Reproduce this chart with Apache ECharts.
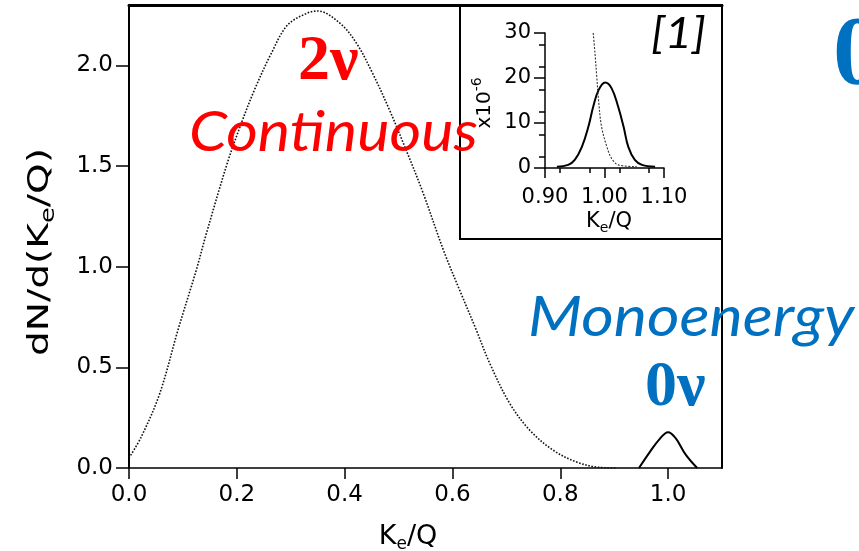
<!DOCTYPE html>
<html>
<head>
<meta charset="utf-8">
<script src="https://cdn.jsdelivr.net/npm/echarts@6/dist/echarts.min.js"></script>
<style>
  html, body { margin: 0; padding: 0; background: #fff; }
  #main { width: 859px; height: 551px; }
</style>
</head>
<body>
<div id="main"></div>
<script>
// Double-beta decay: summed electron energy spectrum, K_e/Q
// 2-neutrino continuous spectrum (main panel)
const twoNuX = [0.000, 0.023, 0.057, 0.091, 0.125, 0.143, 0.183, 0.208, 0.233, 0.264, 0.294, 0.331, 0.350,
                0.391, 0.422, 0.452, 0.483, 0.514, 0.545, 0.585, 0.613, 0.644, 0.669, 0.706, 0.743,
                0.786, 0.829, 0.872, 0.904];
const twoNuY = [0.050, 0.156, 0.370, 0.687, 0.985, 1.160, 1.520, 1.710, 1.880, 2.060, 2.200, 2.260, 2.270,
                2.210, 2.110, 1.960, 1.780, 1.580, 1.370, 1.070, 0.886, 0.687, 0.521, 0.322, 0.189,
                0.090, 0.031, 0.003, 0.000];
// 0-neutrino monoenergetic line at K_e/Q = 1 (main panel)
const zeroNuX = [0.946, 0.965, 0.983, 1.000, 1.014, 1.033, 1.054];
const zeroNuY = [0.000, 0.075, 0.140, 0.178, 0.148, 0.065, 0.000];
// Inset (units of 1e-6): resolution-smeared 0v peak and 2v tail
const insetPeakX = [0.920, 0.939, 0.950, 0.962, 0.973, 0.981, 0.990, 1.001, 1.012, 1.023, 1.032, 1.040, 1.051, 1.063, 1.085];
const insetPeakY = [0.3, 0.7, 1.8, 4.7, 9.2, 13.6, 17.3, 19.0, 17.7, 13.6, 9.2, 4.7, 1.8, 0.7, 0.3];
const insetTailX = [0.981, 0.984, 0.987, 0.990, 0.995, 1.004, 1.012, 1.023, 1.054];
const insetTailY = [30.0, 25.5, 20.3, 15.1, 9.2, 4.7, 2.1, 0.7, 0.3];
// Tick values
const mainXTicks = [0, 0.2, 0.4, 0.6, 0.8, 1.0];
const mainYTicks = [0, 0.5, 1.0, 1.5, 2.0];
const insetXTicks = [0.9, 1.0, 1.1];
const insetYTicks = [0, 10, 20, 30];

const SANS = 'DejaVu Sans';
const SERIF = 'Liberation Serif';
const ITAL = 'Lato';
const RED = '#ff0000';
const BLUE = '#0070c0';
const pairs = (xs, ys) => xs.map((x, i) => [x, ys[i]]);

const chart = echarts.init(document.getElementById('main'), null, { renderer: 'canvas' });

const option = {
  animation: false,
  backgroundColor: '#fff',
  grid: [
    { left: 129, top: 5, width: 593, height: 463 },
    { left: 545, top: 33, width: 119, height: 135 }
  ],
  xAxis: [
    { // main bottom axis
      gridIndex: 0, type: 'value', min: 0, max: 1.1,
      axisLine: { onZero: false, lineStyle: { color: '#000', width: 1.5 } },
      axisTick: { customValues: mainXTicks, length: 11, lineStyle: { color: '#000', width: 1.5 } },
      axisLabel: { customValues: mainXTicks, formatter: v => v.toFixed(1), fontFamily: SANS, fontSize: 23, color: '#000', margin: 16 },
      splitLine: { show: false }
    },
    { // main top frame
      gridIndex: 0, type: 'value', position: 'top', min: 0, max: 1.1,
      axisLine: { onZero: false, lineStyle: { color: '#000', width: 3 } },
      axisTick: { show: false }, axisLabel: { show: false }, splitLine: { show: false }
    },
    { // inset axis
      gridIndex: 1, type: 'value', min: 0.9, max: 1.1,
      axisLine: { onZero: false, lineStyle: { color: '#000', width: 1.5 } },
      axisTick: { customValues: insetXTicks, length: 10, lineStyle: { color: '#000', width: 1.5 } },
      minorTick: { show: true, splitNumber: 2, length: 5, lineStyle: { color: '#000', width: 1.5 } },
      axisLabel: { customValues: insetXTicks, formatter: v => v.toFixed(2), fontFamily: SANS, fontSize: 21, color: '#000', margin: 19 },
      splitLine: { show: false }
    }
  ],
  yAxis: [
    { // main left axis
      gridIndex: 0, type: 'value', min: 0, max: 2.3,
      axisLine: { show: true, onZero: false, lineStyle: { color: '#000', width: 2 } },
      axisTick: { show: true, customValues: mainYTicks, length: 13, lineStyle: { color: '#000', width: 1.5 } },
      axisLabel: { customValues: mainYTicks, formatter: v => v.toFixed(1), fontFamily: SANS, fontSize: 23, color: '#000', margin: 16 },
      splitLine: { show: false }
    },
    { // main right frame
      gridIndex: 0, type: 'value', position: 'right', min: 0, max: 2.3,
      axisLine: { show: true, onZero: false, lineStyle: { color: '#000', width: 2 } },
      axisTick: { show: false }, axisLabel: { show: false }, splitLine: { show: false }
    },
    { // inset axis
      gridIndex: 1, type: 'value', min: 0, max: 30,
      axisLine: { show: true, onZero: false, lineStyle: { color: '#000', width: 1.5 } },
      axisTick: { show: true, customValues: insetYTicks, length: 11, lineStyle: { color: '#000', width: 1.5 } },
      minorTick: { show: true, splitNumber: 2, length: 6, lineStyle: { color: '#000', width: 1.5 } },
      axisLabel: { customValues: insetYTicks, fontFamily: SANS, fontSize: 21, color: '#000', margin: 14 },
      splitLine: { show: false }
    }
  ],
  series: [
    {
      name: '2v', type: 'line', xAxisIndex: 0, yAxisIndex: 0,
      data: pairs(twoNuX, twoNuY), showSymbol: false, smooth: 0.35,
      lineStyle: { color: '#111', width: 1.6, type: [1.6, 1.6] }
    },
    {
      name: '0v', type: 'line', xAxisIndex: 0, yAxisIndex: 0,
      data: pairs(zeroNuX, zeroNuY), showSymbol: false, smooth: 0.4,
      lineStyle: { color: '#000', width: 2 }
    },
    {
      name: '0v inset', type: 'line', xAxisIndex: 2, yAxisIndex: 2,
      data: pairs(insetPeakX, insetPeakY), showSymbol: false, smooth: 0.4,
      lineStyle: { color: '#000', width: 2 }
    },
    {
      name: '2v inset', type: 'line', xAxisIndex: 2, yAxisIndex: 2,
      data: pairs(insetTailX, insetTailY), showSymbol: false, smooth: 0.35,
      lineStyle: { color: '#333', width: 1.1, type: [2, 1.5] }
    }
  ],
  graphic: [
    // inset frame
    { type: 'rect', z: 1, shape: { x: 460, y: 5, width: 262, height: 234 },
      style: { fill: 'none', stroke: '#000', lineWidth: 2 } },
    // main axis titles
    { type: 'text', z: 5, x: 408, y: 537,
      style: { text: '{m|K}{s|e}{m|/Q}', align: 'center', verticalAlign: 'middle',
        rich: { m: { fontFamily: SANS, fontSize: 27, color: '#000' },
                s: { fontFamily: SANS, fontSize: 17, color: '#000', padding: [16, 0, 0, 0] } } } },
    { type: 'text', z: 5, x: 40, y: 252, rotation: Math.PI / 2, scaleX: 1.35,
      style: { text: '{m|dN/d(K}{s|e}{m|/Q)}', align: 'center', verticalAlign: 'middle',
        rich: { m: { fontFamily: SANS, fontSize: 29, color: '#000' },
                s: { fontFamily: SANS, fontSize: 19, color: '#000', padding: [18, 0, 0, 0] } } } },
    // inset axis titles
    { type: 'text', z: 5, x: 609, y: 222,
      style: { text: '{m|K}{s|e}{m|/Q}', align: 'center', verticalAlign: 'middle',
        rich: { m: { fontFamily: SANS, fontSize: 21, color: '#000' },
                s: { fontFamily: SANS, fontSize: 14, color: '#000', padding: [13, 0, 0, 0] } } } },
    { type: 'text', z: 5, x: 485, y: 103, rotation: Math.PI / 2,
      style: { text: '{m|x10}{p|-6}', align: 'center', verticalAlign: 'middle',
        rich: { m: { fontFamily: SANS, fontSize: 20, color: '#000' },
                p: { fontFamily: SANS, fontSize: 14, color: '#000', padding: [0, 0, 15, 0] } } } },
    // reference tag
    { type: 'text', z: 5, x: 651, y: 34, scaleX: 1.1,
      style: { text: '[1]', fontFamily: ITAL, fontStyle: 'italic', fontSize: 43, fill: '#000', verticalAlign: 'middle' } },
    // annotations
    { type: 'text', z: 10, x: 298, y: 62,
      style: { text: '2ν', fontFamily: SERIF, fontWeight: 'bold', fontSize: 64, fill: RED, verticalAlign: 'middle' } },
    { type: 'text', z: 10, x: 189, y: 133, scaleX: 1.09,
      style: { text: 'Continuous', fontFamily: ITAL, fontStyle: 'italic', fontSize: 56, fill: RED, verticalAlign: 'middle' } },
    { type: 'text', z: 10, x: 528, y: 318, scaleX: 1.12,
      style: { text: 'Monoenergy', fontFamily: ITAL, fontStyle: 'italic', fontSize: 56, fill: BLUE, verticalAlign: 'middle' } },
    { type: 'text', z: 10, x: 645, y: 388,
      style: { text: '0ν', fontFamily: SERIF, fontWeight: 'bold', fontSize: 64, fill: BLUE, verticalAlign: 'middle' } },
    { type: 'text', z: 10, x: 833, y: 58,
      style: { text: '0', fontFamily: SERIF, fontWeight: 'bold', fontSize: 98, fill: BLUE, verticalAlign: 'middle' } }
  ]
};
chart.setOption(option);
</script>
</body>
</html>
